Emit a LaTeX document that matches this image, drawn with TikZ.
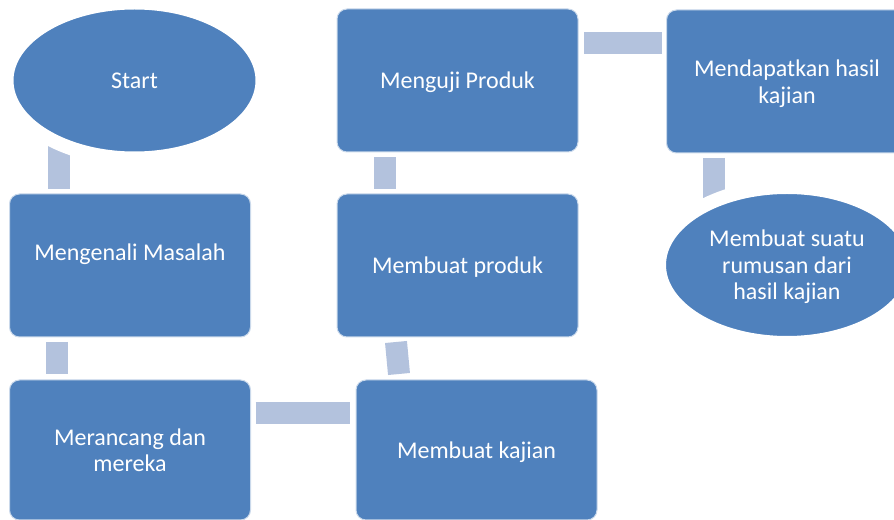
\documentclass[tikz,border=0pt]{standalone}
\usepackage{fontspec}
\setmainfont{Carlito}
\definecolor{stepblue}{RGB}{79, 129, 189}
\definecolor{linkblue}{RGB}{179, 194, 221}
\usetikzlibrary{shapes.geometric, calc, backgrounds}

\begin{document}
\begin{tikzpicture}[x=0.75pt, y=-0.75pt,
  stepbox/.style={draw=white!70!stepblue, line width=0.75pt, fill=stepblue, rounded corners=7.5pt, minimum width=180.75pt, minimum height=107.25pt, outer sep=0pt, inner sep=0pt, text=white, text depth=0pt, align=center, font=\fontsize{18}{19.8}\selectfont},
  stepoval/.style={ellipse, draw=white, line width=10.5pt, fill=stepblue, minimum width=192pt, minimum height=117pt, inner sep=0pt, text=white, text depth=0pt, align=center, font=\fontsize{18}{19.8}\selectfont},
  link/.style={draw=linkblue, line width=16.5pt, line cap=butt}]
  \useasboundingbox (0,0) rectangle (894,520);

  % Left column
  \node[stepoval] (start) at (134.5,80.5) {Start};
  \node[stepbox] (masalah) at (130,265.5) {Mengenali Masalah\\ \mbox{}};
  \node[stepbox, minimum height=105pt] (rancang) at (130,450) {Merancang dan\\mereka};

  % Middle column
  \node[stepbox, minimum height=105pt] (kajian) at (476.5,450) {Membuat kajian};
  \node[stepbox] (produk) at (457.5,265.5) {Membuat produk};
  \node[stepbox] (uji) at (457.5,80.5) {Menguji Produk};

  % Right column
  \node[stepbox] (hasil) at (787,81.5) {Mendapatkan hasil\\kajian};
  \node[stepoval] (rumusan) at (787,265) {Membuat suatu\\rumusan dari\\hasil kajian};

  % Links
  \begin{scope}[on background layer]
    \draw[link] ($(start.center)+(-76,45)$) -- ($(masalah.north)+(-71.5,-5)$);
    \draw[link] ($(masalah.south)+(-73.5,5)$) -- ($(rancang.north)+(-73.5,-6)$);
    \draw[link] ($(rancang.east)+(5,-36.5)$) -- ($(kajian.west)+(-6,-36.5)$);
    \draw[link] ($(kajian.north)+(-77.5,-6)$) -- ($(produk.south)+(-61.5,5)$);
    \draw[link] ($(produk.north)+(-73,-5)$) -- ($(uji.south)+(-73,5)$);
    \draw[link] ($(uji.east)+(6,-37.5)$) -- ($(hasil.west)+(-5,-38.5)$);
    \draw[link] ($(hasil.south)+(-73.5,5)$) -- ($(rumusan.center)+(-73.5,-45)$);
  \end{scope}
\end{tikzpicture}
\end{document}
